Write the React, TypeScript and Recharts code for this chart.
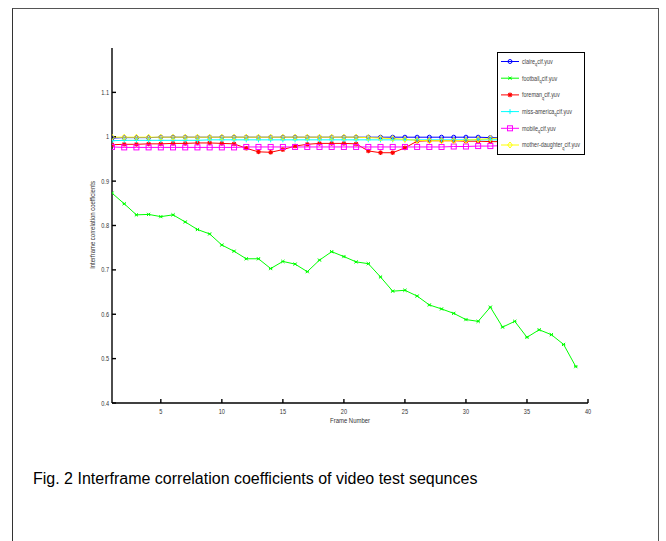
import React from "react";
import { LineChart, Line, XAxis, YAxis } from "recharts";

const frames = [1,2,3,4,5,6,7,8,9,10,11,12,13,14,15,16,17,18,19,20,21,22,23,24,25,26,27,28,29,30,31,32,33,34,35,36,37,38,39];

const claire = [0.997,0.998,0.998,0.998,0.999,0.999,0.999,0.999,0.999,0.999,0.999,0.999,0.999,0.999,0.999,0.999,0.999,0.999,0.999,0.999,0.999,0.999,0.999,0.999,0.999,0.999,0.999,0.999,0.999,0.999,0.999,0.998,0.998,0.998,0.998,0.998,0.998,0.998,0.998];
const football = [0.873,0.849,0.824,0.825,0.820,0.824,0.808,0.791,0.781,0.756,0.742,0.725,0.725,0.703,0.719,0.713,0.696,0.722,0.741,0.730,0.718,0.714,0.684,0.652,0.654,0.641,0.621,0.612,0.602,0.588,0.584,0.616,0.571,0.584,0.548,0.565,0.554,0.532,0.482];
const foreman = [0.982,0.983,0.983,0.984,0.984,0.985,0.985,0.986,0.986,0.985,0.984,0.974,0.966,0.965,0.971,0.979,0.983,0.985,0.985,0.985,0.984,0.968,0.964,0.964,0.975,0.990,0.991,0.991,0.991,0.990,0.990,0.989,0.989,0.988,0.988,0.987,0.987,0.987,0.986];
const missAmerica = [0.991,0.992,0.992,0.992,0.992,0.992,0.992,0.992,0.993,0.993,0.993,0.993,0.993,0.993,0.993,0.993,0.993,0.993,0.993,0.993,0.993,0.993,0.993,0.993,0.993,0.993,0.993,0.993,0.993,0.993,0.993,0.993,0.993,0.993,0.993,0.993,0.993,0.993,0.993];
const mobile = [0.977,0.976,0.976,0.976,0.976,0.976,0.976,0.976,0.976,0.976,0.976,0.977,0.977,0.977,0.977,0.977,0.977,0.977,0.977,0.977,0.977,0.977,0.977,0.977,0.977,0.977,0.977,0.977,0.978,0.978,0.979,0.979,0.980,0.980,0.981,0.981,0.982,0.982,0.982];
const motherDaughter = [0.999,0.999,0.999,0.999,0.999,0.999,0.999,0.999,0.999,0.999,0.999,0.999,0.999,0.999,0.999,0.999,0.999,0.999,0.999,0.999,0.999,0.998,0.997,0.996,0.994,0.992,0.991,0.991,0.991,0.992,0.994,0.996,0.997,0.998,0.998,0.998,0.998,0.998,0.998];

const xTicks = [5,10,15,20,25,30,35,40];
const yTicks = [0.4,0.5,0.6,0.7,0.8,0.9,1.0,1.1];

const seriesNames = ["claire", "football", "foreman", "miss-america", "mobile", "mother-daughter"];
const seriesKeys = ["claire", "football", "foreman", "missAmerica", "mobile", "motherDaughter"];
const seriesColors = ["#0000ff", "#00ff00", "#ff0000", "#00ffff", "#ff00ff", "#ffff00"];
const seriesShapes = ["circle", "asterisk", "star", "plus", "square", "diamond"];

const data = frames.map((f, i) => ({
  frame: f,
  claire: claire[i],
  football: football[i],
  foreman: foreman[i],
  missAmerica: missAmerica[i],
  mobile: mobile[i],
  motherDaughter: motherDaughter[i],
}));

const FONT = "'Liberation Sans', Arial, sans-serif";
const TXT = "#333";

function Marker({ shape, color, cx, cy }: { shape: string; color: string; cx: number; cy: number }) {
  switch (shape) {
    case "circle":
      return <circle cx={cx} cy={cy} r={2} fill="none" stroke={color} strokeWidth={1} />;
    case "asterisk": {
      const s = 1.6;
      return (
        <g stroke={color} strokeWidth={1}>
          <line x1={cx - s} y1={cy - s} x2={cx + s} y2={cy + s} />
          <line x1={cx - s} y1={cy + s} x2={cx + s} y2={cy - s} />
          <line x1={cx - s} y1={cy} x2={cx + s} y2={cy} />
        </g>
      );
    }
    case "star": {
      const s = 2.3;
      return (
        <g stroke={color} strokeWidth={1.2}>
          <line x1={cx - s} y1={cy} x2={cx + s} y2={cy} />
          <line x1={cx} y1={cy - s} x2={cx} y2={cy + s} />
          <line x1={cx - 1.7} y1={cy - 1.7} x2={cx + 1.7} y2={cy + 1.7} />
          <line x1={cx - 1.7} y1={cy + 1.7} x2={cx + 1.7} y2={cy - 1.7} />
        </g>
      );
    }
    case "plus": {
      const s = 2.5;
      return (
        <g stroke={color} strokeWidth={1}>
          <line x1={cx - s} y1={cy} x2={cx + s} y2={cy} />
          <line x1={cx} y1={cy - s} x2={cx} y2={cy + s} />
        </g>
      );
    }
    case "square":
      return <rect x={cx - 2.5} y={cy - 2.5} width={5} height={5} fill="none" stroke={color} strokeWidth={1} />;
    case "diamond":
      return (
        <polygon
          points={`${cx},${cy - 3} ${cx + 2.3},${cy} ${cx},${cy + 3} ${cx - 2.3},${cy}`}
          fill="none"
          stroke={color}
          strokeWidth={1}
        />
      );
    default:
      return null;
  }
}

const makeDot = (shape: string, color: string) => (props: any) => {
  const { cx, cy, index } = props;
  if (cx == null || cy == null) return <g key={`d-${index}`} />;
  return (
    <g key={`d-${shape}-${index}`}>
      <Marker shape={shape} color={color} cx={cx} cy={cy} />
    </g>
  );
};

const fmtY = (v: number) => String(Number(v.toFixed(1)));

function LegendBox() {
  const rowH = 16.7;
  return (
    <div
      style={{
        position: "absolute",
        left: 497,
        top: 52,
        width: 88,
        height: 103,
        border: "1px solid #000",
        background: "#fff",
        boxSizing: "border-box",
      }}
    >
      <svg width={86} height={101} style={{ display: "block" }}>
        {seriesNames.map((name, i) => {
          const y = 8.5 + i * rowH;
          return (
            <g key={name}>
              <line x1={3} y1={y} x2={21} y2={y} stroke={seriesColors[i]} strokeWidth={1} />
              <Marker shape={seriesShapes[i]} color={seriesColors[i]} cx={12} cy={y} />
              <text
                transform={`translate(24 ${y + 2.3}) scale(0.78 1)`}
                x={0}
                y={0}
                fontSize={7}
                fill="#444"
                fontFamily={FONT}
              >
                {name}
                <tspan dy={2.5} fontSize={5}>q</tspan>
                <tspan dy={-2.5}>cif.yuv</tspan>
              </text>
            </g>
          );
        })}
      </svg>
    </div>
  );
}

const XTick = (props: any) => {
  const { x, payload } = props;
  return (
    <text transform={`translate(${x} ${409}) scale(0.8 1)`} textAnchor="middle" dy="0.71em" fontSize={7} fill={TXT} fontFamily={FONT}>
      {payload.value}
    </text>
  );
};

const YTick = (props: any) => {
  const { y, payload } = props;
  return (
    <text transform={`translate(109 ${y}) scale(0.8 1)`} textAnchor="end" dy="0.355em" fontSize={7} fill={TXT} fontFamily={FONT}>
      {fmtY(payload.value)}
    </text>
  );
};

const AXIS_W = 1.4;

export default function App() {
  return (
    <div style={{ position: "absolute", left: 0, top: 0, width: 666, height: 541, background: "#fff", overflow: "hidden" }}>
      <div
        style={{
          position: "absolute",
          left: 12,
          top: 8,
          width: 647,
          height: 540,
          borderLeft: "1.5px solid #333",
          borderTop: "1px solid #555",
          borderRight: "1px solid #555",
          boxSizing: "border-box",
        }}
      />
      <div style={{ position: "absolute", left: 0, top: 0 }}>
        <LineChart width={666} height={541} data={data} margin={{ top: 48, right: 78, bottom: 108, left: 82 }}>
          <XAxis
            dataKey="frame"
            type="number"
            domain={[1, 40]}
            ticks={xTicks}
            allowDataOverflow
            height={30}
            stroke="#000"
            strokeWidth={AXIS_W}
            tickSize={-4}
            tickMargin={6}
            tick={<XTick />}
            label={(props: any) => {
              const vb = props.viewBox || {};
              return (
                <text
                  transform={`translate(${vb.x + vb.width / 2} 423) scale(0.85 1)`}
                  textAnchor="middle"
                  fontSize={7}
                  fill={TXT}
                  fontFamily={FONT}
                >
                  Frame Number
                </text>
              );
            }}
          />
          <XAxis
            xAxisId="top"
            orientation="top"
            dataKey="frame"
            type="number"
            domain={[1, 40]}
            ticks={xTicks}
            allowDataOverflow
            height={0}
            stroke="#000"
            strokeWidth={AXIS_W}
            tickSize={-4}
            tick={false}
          />
          <YAxis
            type="number"
            domain={[0.4, 1.2]}
            ticks={yTicks}
            allowDataOverflow
            width={30}
            stroke="#000"
            strokeWidth={AXIS_W}
            tickSize={-4}
            tickMargin={7}
            tick={<YTick />}
            label={() => {
              const cy = 225;
              return (
                <text
                  transform={`translate(95 ${cy}) rotate(-90) scale(0.85 1)`}
                  textAnchor="middle"
                  fontSize={7}
                  fill={TXT}
                  fontFamily={FONT}
                >
                  Interframe correlation coefficients
                </text>
              );
            }}
          />
          <YAxis
            yAxisId="right"
            orientation="right"
            type="number"
            domain={[0.4, 1.2]}
            ticks={yTicks}
            allowDataOverflow
            width={0}
            stroke="#000"
            strokeWidth={AXIS_W}
            tickSize={-4}
            tick={false}
          />
          {seriesKeys.map((k, i) => (
            <Line
              key={k}
              dataKey={k}
              name={seriesNames[i]}
              stroke={seriesColors[i]}
              strokeWidth={1}
              isAnimationActive={false}
              dot={makeDot(seriesShapes[i], seriesColors[i])}
              activeDot={false}
            />
          ))}
        </LineChart>
      </div>
      <LegendBox />
      <div
        style={{
          position: "absolute",
          left: 33,
          top: 470,
          fontFamily: "Arial, 'Liberation Sans', sans-serif",
          fontSize: 16,
          color: "#000",
          whiteSpace: "nowrap",
        }}
      >
        Fig. 2 Interframe correlation coefficients of video test sequnces
      </div>
    </div>
  );
}
